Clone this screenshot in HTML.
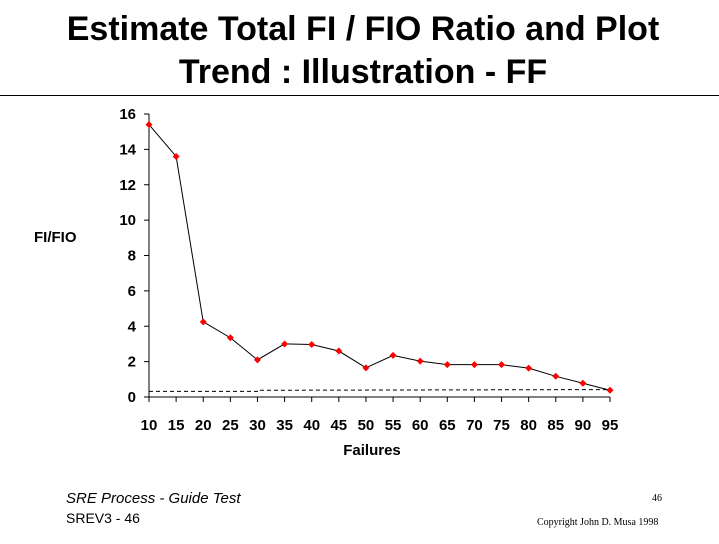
<!DOCTYPE html>
<html><head><meta charset="utf-8"><style>
body{margin:0;width:719px;height:539px;background:#fff;overflow:hidden;font-family:"Liberation Sans",Arial,sans-serif;}
</style></head><body>
<svg width="719" height="539" viewBox="0 0 719 539" xmlns="http://www.w3.org/2000/svg">
<g font-family="Liberation Sans, Arial, sans-serif" font-weight="bold" font-size="34" text-anchor="middle" fill="#000">
<text x="363" y="40">Estimate Total FI / FIO Ratio and Plot</text>
<text x="363" y="83">Trend : Illustration - FF</text>
</g>
<line x1="0" y1="95.5" x2="719" y2="95.5" stroke="#000" stroke-width="1"/>
<text x="34" y="242" font-weight="bold" font-size="15">FI/FIO</text>
<text x="372" y="455" font-weight="bold" font-size="15" text-anchor="middle">Failures</text>
<g id="axes"></g>
<g id="plot"></g>
<text x="66" y="503" font-style="italic" font-size="15">SRE Process - Guide Test</text>
<text x="66" y="523" font-size="14">SREV3 - 46</text>
<text x="652" y="501" font-family="Liberation Serif, serif" font-size="10">46</text>
<text x="537" y="525" font-family="Liberation Serif, serif" font-size="10">Copyright John D. Musa 1998</text>
</svg>
<script>
const categories=[10,15,20,25,30,35,40,45,50,55,60,65,70,75,80,85,90,95];
const ratioValues=[15.4,13.6,4.25,3.35,2.1,3.0,2.97,2.6,1.65,2.35,2.03,1.83,1.83,1.83,1.63,1.17,0.78,0.38];
const dashedCats=[10,30,30,95];
const dashedValues=[0.32,0.32,0.38,0.42];
const yTicks=[0,2,4,6,8,10,12,14,16];
const NS="http://www.w3.org/2000/svg";
const x0=149,x1=610,yBase=397,yTop=114;
function xs(c){return x0+(c-10)/(95-10)*(x1-x0);}
function ys(v){return yBase-v/16*(yBase-yTop);}
function mk(tag,attrs,parent){const e=document.createElementNS(NS,tag);for(const k in attrs)e.setAttribute(k,attrs[k]);parent.appendChild(e);return e;}
const axes=document.getElementById('axes'),plot=document.getElementById('plot');
let e=mk('line',{x1:x0,y1:yTop,x2:x0,y2:yBase,stroke:'#000'},axes);


e=mk('line',{x1:x0,y1:yBase,x2:x1,y2:yBase,stroke:'#000'},axes);


yTicks.forEach(t=>{
 mk('line',{x1:x0-5,y1:ys(t),x2:x0,y2:ys(t),stroke:'#000'},axes);
 const tx=mk('text',{x:x0-13,y:ys(t)+5,'text-anchor':'end','font-weight':'bold','font-size':'15'},axes);
 tx.textContent=t;
 
 
});
categories.forEach(c=>{
 mk('line',{x1:xs(c),y1:yBase,x2:xs(c),y2:yBase+5,stroke:'#000'},axes);
 const tx=mk('text',{x:xs(c),y:yBase+33,'text-anchor':'middle','font-weight':'bold','font-size':'15'},axes);
 tx.textContent=c;
 
 
});
const dp=mk('polyline',{points:dashedCats.map((c,i)=>xs(c)+','+ys(dashedValues[i])).join(' '),fill:'none',stroke:'#000','stroke-dasharray':'4,3'},plot);


const ln=mk('polyline',{points:categories.map((c,i)=>xs(c)+','+ys(ratioValues[i])).join(' '),fill:'none',stroke:'#000','stroke-width':'1'},plot);


categories.forEach((c,i)=>{
 const x=xs(c),y=ys(ratioValues[i]);
 const m=mk('polygon',{points:`${x},${y-3.5} ${x+3.5},${y} ${x},${y+3.5} ${x-3.5},${y}`,fill:'#ff0000'},plot);
 
 
});
</script>
</body></html>
